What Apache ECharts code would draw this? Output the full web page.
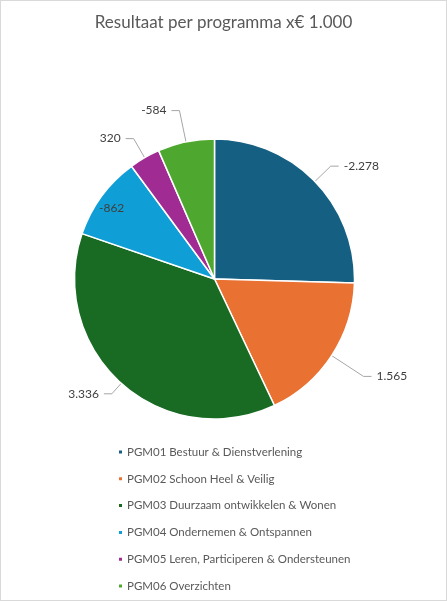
<!DOCTYPE html>
<html><head><meta charset="utf-8">
<script src="https://cdn.jsdelivr.net/npm/echarts@6/dist/echarts.min.js"></script>
<style>
html,body{margin:0;padding:0;background:#fff;}
#c{position:absolute;left:0;top:0;width:445px;height:599px;border:1px solid #d9d9d9;}
</style></head>
<body><div id="c"></div>
<script>
const categories = ['PGM01 Bestuur & Dienstverlening','PGM02 Schoon Heel & Veilig','PGM03 Duurzaam ontwikkelen & Wonen','PGM04 Ondernemen & Ontspannen','PGM05 Leren, Participeren & Ondersteunen','PGM06 Overzichten'];
const values = [-2278, 1565, 3336, -862, 320, -584];
const colors = ['#156082','#E97132','#196B24','#0F9ED5','#A02B93','#4EA72E'];
const insideLabels = [false,false,false,true,false,false];
const leaderLengths = [22,38,14,0,22,32];

function fmt(v){
  const s = Math.abs(v).toString().replace(/\B(?=(\d{3})+(?!\d))/g,'.');
  return (v<0?'-':'')+s;
}
const FONT = 'Lato';
const chart = echarts.init(document.getElementById('c'));
chart.setOption({
  animation:false,
  title:{text:'Resultaat per programma x€ 1.000',left:'center',top:8,
    textStyle:{fontFamily:FONT,fontSize:17,fontWeight:'normal',color:'#595959'}},
  legend:{orient:'vertical',left:116,top:445,height:200,padding:0,itemWidth:5,itemHeight:5,itemGap:14.8,icon:'rect',
    textStyle:{fontFamily:FONT,fontSize:11.5,color:'#595959',padding:[0,0,0,-1]},
    data:categories},
  series:[{
    type:'pie',center:[213.5,278],radius:[0,140],startAngle:90,clockwise:true,
    itemStyle:{borderColor:'#fff',borderWidth:1.5},
    label:{show:true,fontFamily:FONT,fontSize:12,color:'#404040',
      formatter:p=>fmt(values[p.dataIndex])},
    labelLine:{show:true,length:20,length2:8,lineStyle:{color:'#a6a6a6',width:1}},
    data:categories.map((n,i)=>({name:n,value:Math.abs(values[i]),itemStyle:{color:colors[i]},
      label: insideLabels[i]?{position:'inside',offset:[-44,-28]}:undefined,
      labelLine: insideLabels[i]?{show:false}:{length:leaderLengths[i]}}))
  }]
});
</script></body></html>
